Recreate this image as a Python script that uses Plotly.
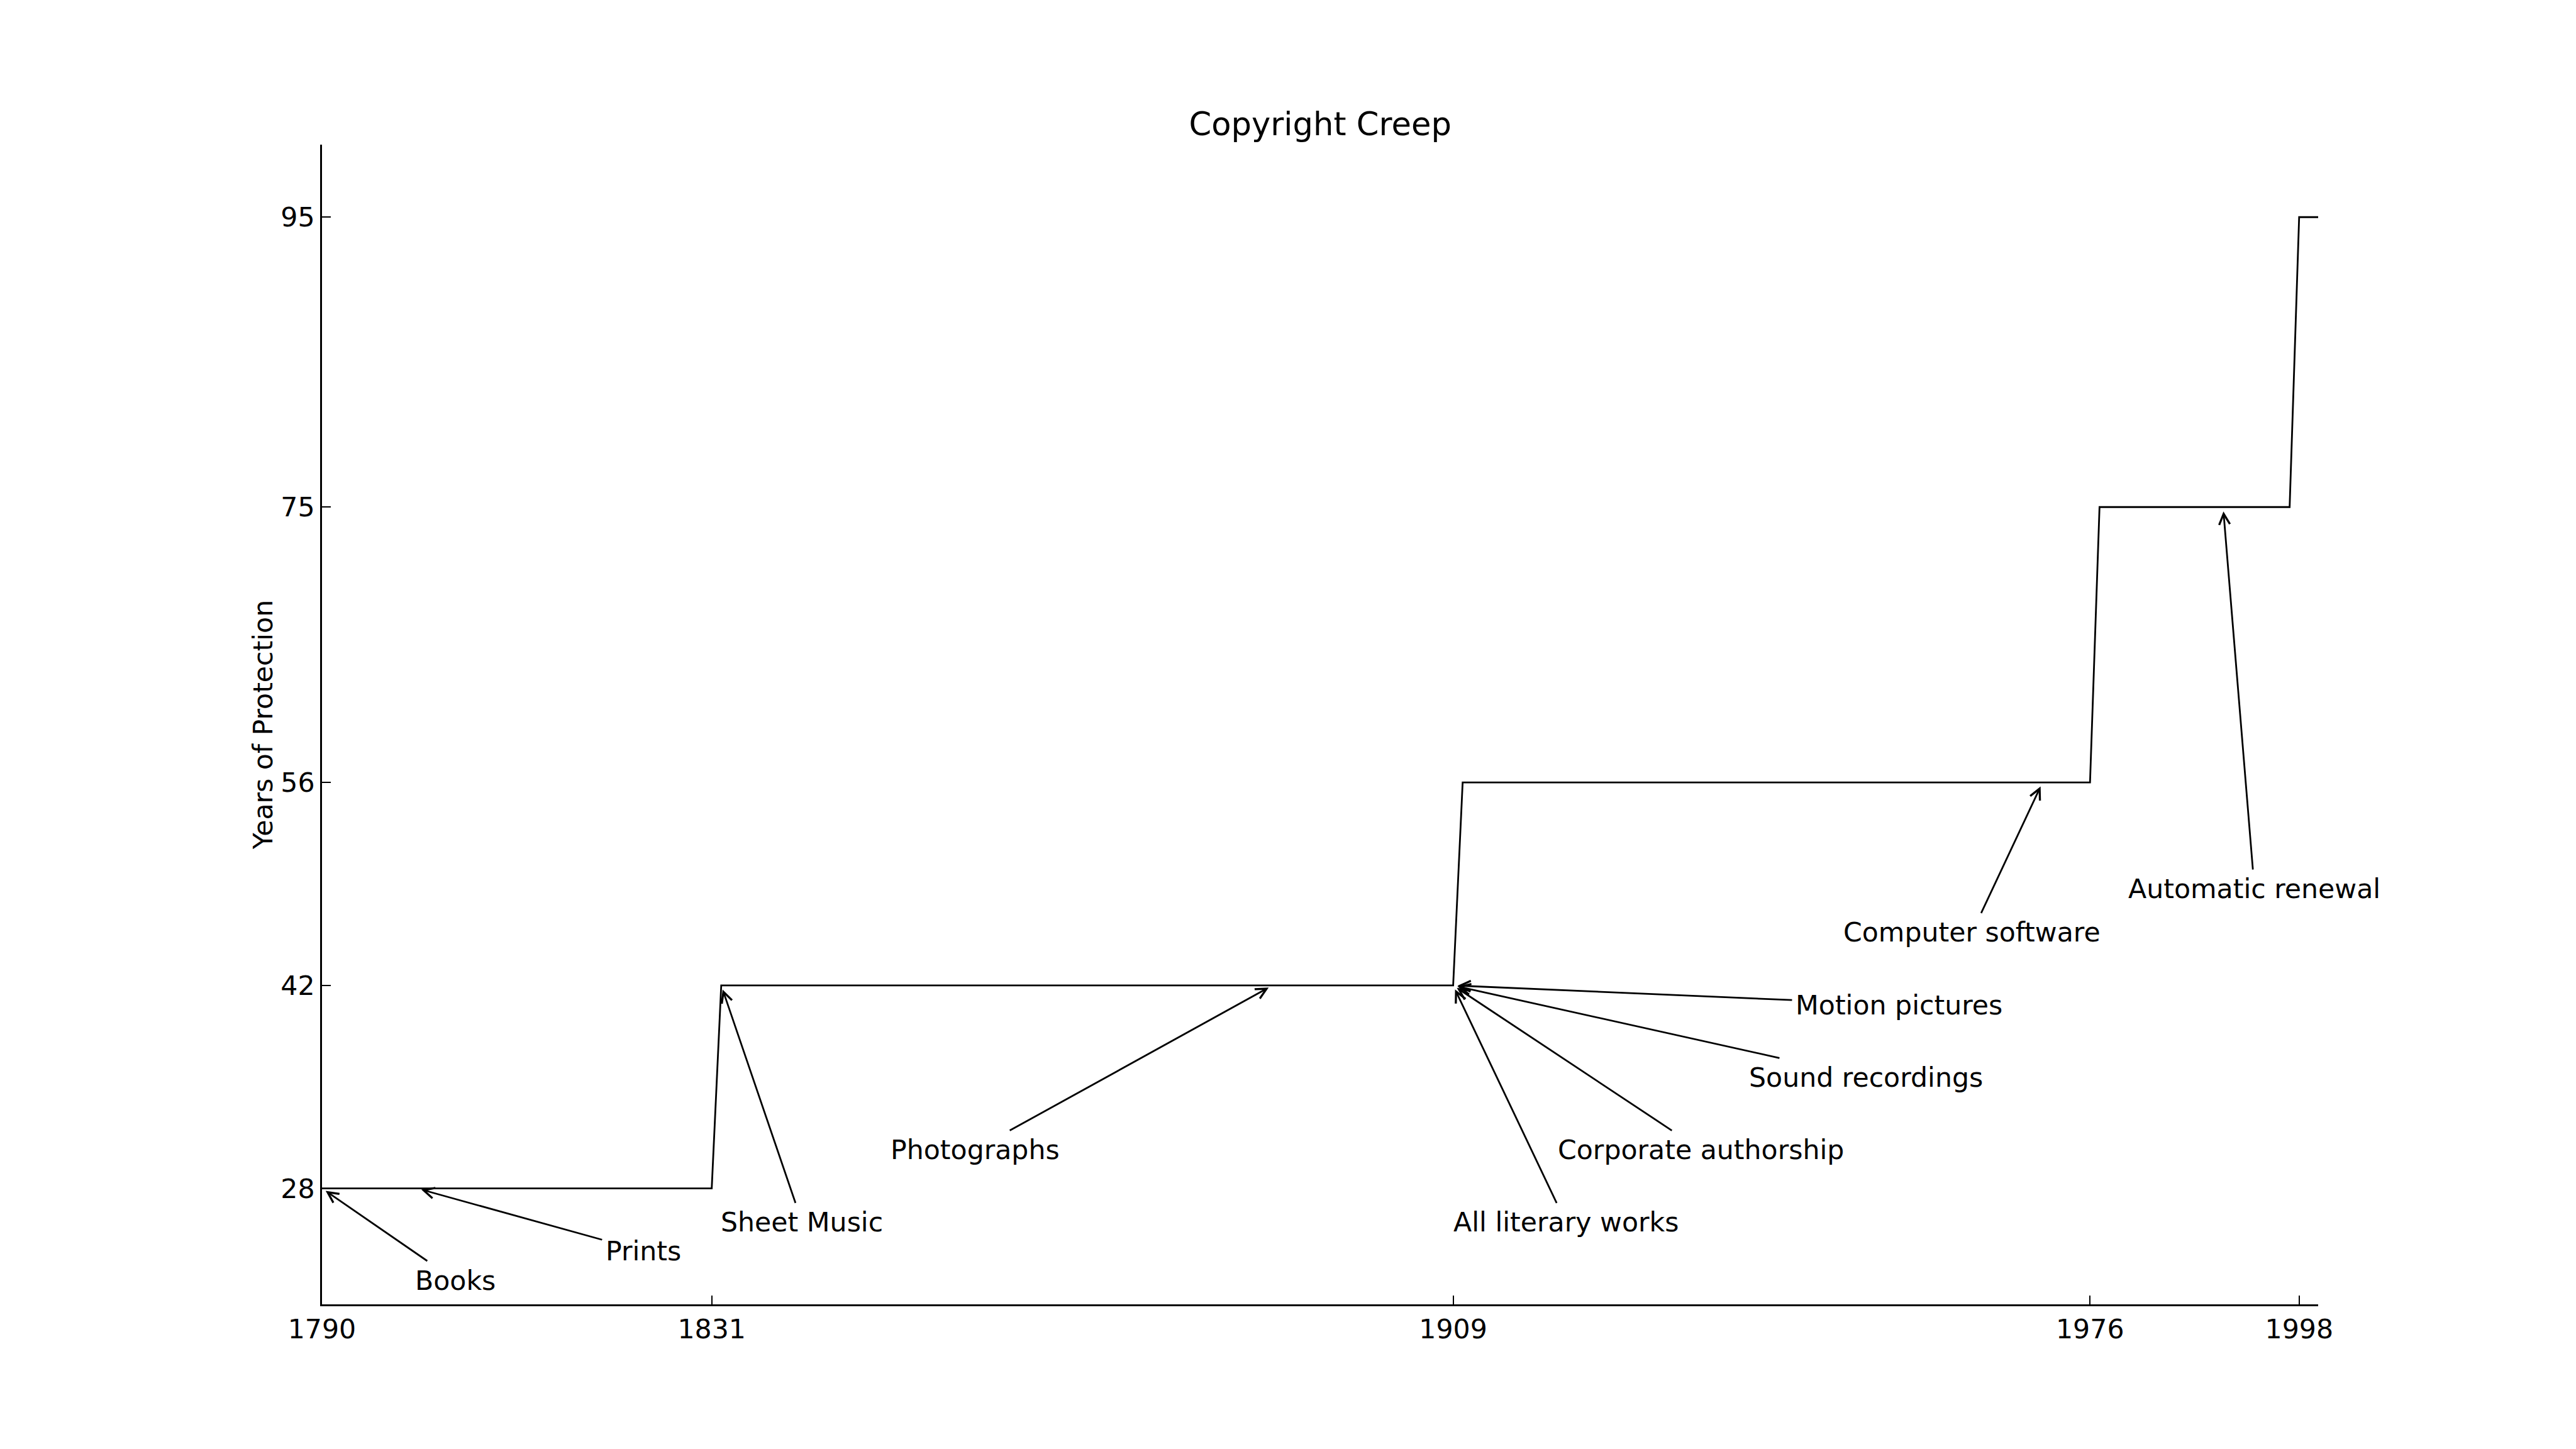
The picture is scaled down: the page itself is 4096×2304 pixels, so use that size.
import plotly.graph_objects as go

# ---- data ----
years = [1790, 1831, 1832, 1909, 1910, 1976, 1977, 1997, 1998, 2000]
protection = [28, 28, 42, 42, 56, 56, 75, 75, 95, 95]

tick_years = [1790, 1831, 1909, 1976, 1998]
tick_protection = [28, 42, 56, 75, 95]

labels = ["Books", "Prints", "Sheet Music", "Photographs", "All literary works",
          "Corporate authorship", "Sound recordings", "Motion pictures",
          "Computer software", "Automatic renewal"]
point_x = [1790, 1800, 1832, 1890, 1909, 1909, 1909, 1909, 1971, 1990]
point_y = [28, 28, 42, 42, 42, 42, 42, 42, 56, 75]
label_x = [1804.0, 1823.8, 1840.5, 1858.7, 1920.85, 1935.05, 1952.4, 1955.9, 1963.6, 1993.3]
label_y = [21.67, 23.67, 25.67, 30.67, 25.67, 30.67, 35.67, 40.67, 45.67, 48.67]

W, H = 4096, 2304
FONT = "DejaVu Sans"
FS = 42.65
LW = 2.8

fig = go.Figure()
fig.add_trace(go.Scatter(x=years, y=protection, mode="lines",
                         line=dict(color="black", width=LW),
                         hoverinfo="skip", showlegend=False))

annotations = []
for txt, px, py, lx, ly in zip(labels, point_x, point_y, label_x, label_y):
    annotations.append(dict(
        x=px, y=py, xref="x", yref="y",
        ax=lx, ay=ly, axref="x", ayref="y",
        text=txt, showarrow=True,
        arrowhead=5, arrowsize=1.2, arrowwidth=LW, arrowcolor="black",
        standoff=7, borderpad=5,
        xanchor="center", yanchor="middle",
        font=dict(family=FONT, size=FS, color="black"),
    ))

fig.update_layout(
    width=W, height=H,
    margin=dict(l=512, r=409.6, t=230.4, b=230.4, pad=0),
    paper_bgcolor="white", plot_bgcolor="white",
    font=dict(family=FONT, size=FS, color="black"),
    title=dict(text="Copyright Creep", x=0.5125, xanchor="center",
               y=1 - 197 / H, yanchor="middle",
               font=dict(family=FONT, size=51.2, color="black")),
    annotations=annotations,
    xaxis=dict(range=[1790, 2000], tickvals=tick_years, ticktext=[str(v) for v in tick_years],
               ticks="inside", ticklen=14, tickwidth=1.5, tickcolor="black",
               showline=True, linecolor="black", linewidth=LW,
               showgrid=False, zeroline=False,
               tickfont=dict(family=FONT, size=FS, color="black")),
    yaxis=dict(range=[20, 100], tickvals=tick_protection, ticktext=[str(v) for v in tick_protection],
               ticks="inside", ticklen=14, tickwidth=1.5, tickcolor="black",
               showline=True, linecolor="black", linewidth=LW,
               showgrid=False, zeroline=False,
               title=dict(text="Years of Protection", standoff=0,
                          font=dict(family=FONT, size=FS, color="black")),
               tickfont=dict(family=FONT, size=FS, color="black")),
)

fig.write_html("out.html")
